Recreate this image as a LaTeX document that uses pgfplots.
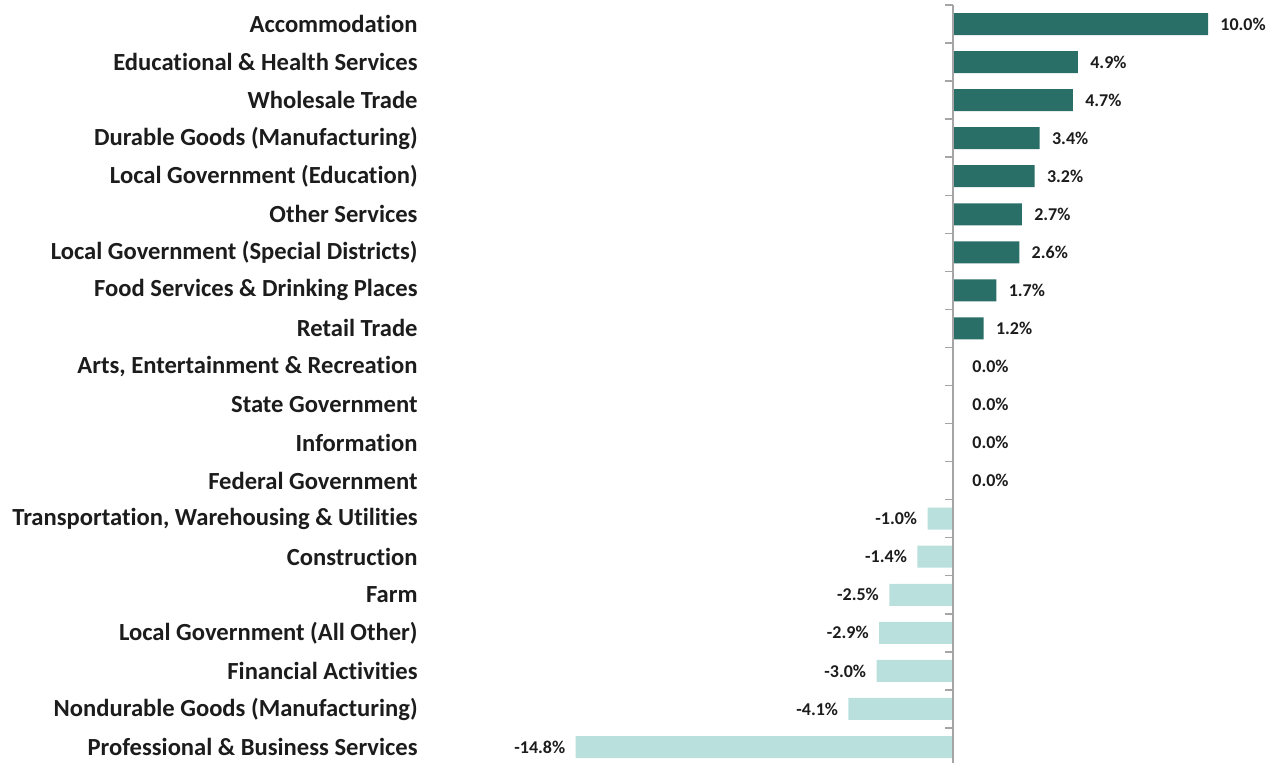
\documentclass[border=0pt]{standalone}
\usepackage{pgfplots}
\pgfplotsset{compat=1.18}
\usepackage{fontspec}
\setmainfont{Carlito}[Ligatures={CommonOff}]
\definecolor{darkbar}{RGB}{42,111,103}
\definecolor{lightbar}{RGB}{185,224,220}
\definecolor{txt}{RGB}{28,28,28}
\definecolor{axgray}{RGB}{165,165,165}
\begin{document}
\begin{tikzpicture}
\begin{axis}[
  xbar, bar width=11pt, bar shift=0pt,
  scale only axis, width=420pt, height=379pt,
  xmin=-20.51, xmax=12.43, ymin=-0.42, ymax=19.5,
  ytick={0,...,19},
  yticklabels={Professional \& Business Services, Nondurable Goods (Manufacturing), Financial Activities, Local Government (All Other), Farm, Construction, {Transportation, Warehousing \& Utilities}, Federal Government, Information, State Government, {Arts, Entertainment \& Recreation}, Retail Trade, Food Services \& Drinking Places, Local Government (Special Districts), Other Services, Local Government (Education), Durable Goods (Manufacturing), Wholesale Trade, Educational \& Health Services, Accommodation},
  xtick=\empty,
  axis line style={draw=none},
  major tick length=0pt,
  yticklabel style={font=\fontsize{12.3}{14}\selectfont\bfseries, text=txt, inner sep=0pt, xshift=-6pt},
  clip=false,
  point meta=x,
  nodes near coords={\pgfmathprintnumber[fixed,fixed zerofill,precision=1,assume math mode=true]{\pgfplotspointmeta}\%},
  every node near coord/.append style={font=\fontsize{9}{10}\selectfont\bfseries, text=txt, inner sep=0pt},
]
\addplot[fill=darkbar, draw=none, every node near coord/.append style={anchor=west, xshift=6pt}] coordinates {
(10.0,19) (4.9,18) (4.7,17) (3.4,16) (3.2,15) (2.7,14) (2.6,13) (1.7,12) (1.2,11)};
\addplot[fill=darkbar, draw=none, every node near coord/.append style={anchor=west, xshift=9.5pt}] coordinates {
(0.0,10) (0.0,9) (0.0,8) (0.0,7)};
\addplot[fill=lightbar, draw=none, every node near coord/.append style={anchor=east, xshift=-5pt}] coordinates {
(-1.0,6) (-1.4,5) (-2.5,4) (-2.9,3) (-3.0,2) (-4.1,1) (-14.8,0)};
\draw[axgray, line width=0.7pt] (axis cs:0,19.5) -- (axis cs:0,-0.42);
\pgfplotsinvokeforeach{0.5,1.5,...,19.5}{\draw[axgray, line width=0.7pt] (axis cs:0,#1) -- ([xshift=-4pt]axis cs:0,#1);}
\end{axis}
\pgfresetboundingbox
\useasboundingbox ([xshift=-215pt]current axis.south west) rectangle ([yshift=2.5pt]current axis.north east);
\end{tikzpicture}
\end{document}
